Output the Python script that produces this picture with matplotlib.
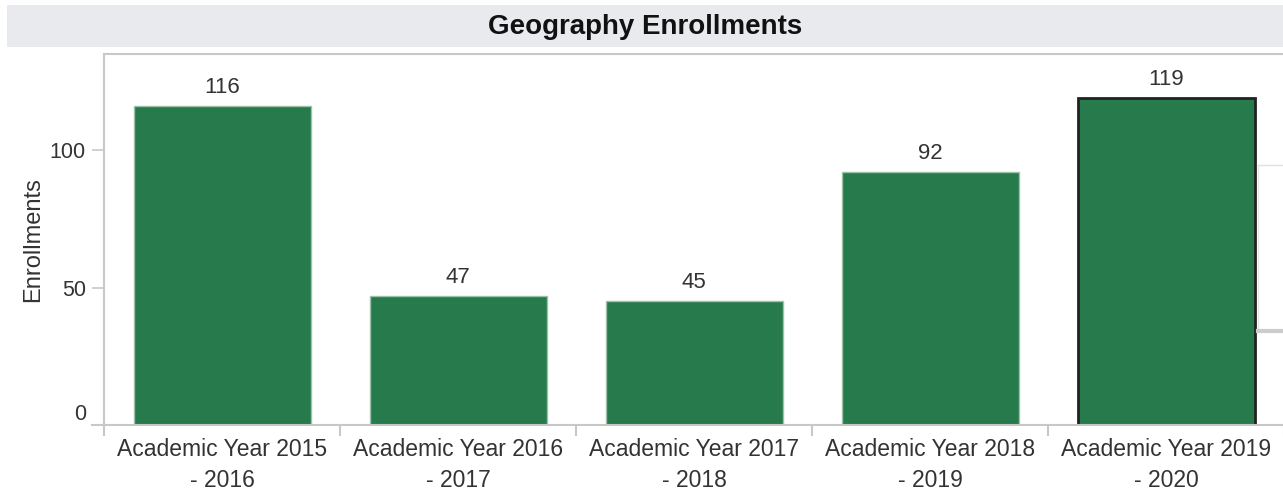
import matplotlib.pyplot as plt
import matplotlib.transforms as mtransforms
from matplotlib.lines import Line2D
from matplotlib.patches import Rectangle
import numpy as np

plt.rcParams['font.family'] = ['Liberation Sans', 'DejaVu Sans']

# Data
years = ["Academic Year 2015\n- 2016", "Academic Year 2016\n- 2017",
         "Academic Year 2017\n- 2018", "Academic Year 2018\n- 2019",
         "Academic Year 2019\n- 2020"]
enrollments = [116, 47, 45, 92, 119]
yticks = [0, 50, 100]

bar_color = '#277a4c'
grey = '#c8c8c8'
text_color = '#333333'

fig = plt.figure(figsize=(12.83, 4.93), dpi=100)
W, H = 1283, 493
ax = fig.add_axes([104 / W, 1 - 425 / H, 1180 / W, (425 - 54) / H])

x = np.arange(len(years))
edgecolors = ['#9cc3a8'] * (len(years) - 1) + ['#222222']
linewidths = [1] * (len(years) - 1) + [2]
bars = ax.bar(x, enrollments, 0.75, color=bar_color,
              edgecolor=edgecolors, linewidth=linewidths, zorder=2)

# value labels on top of bars
for b, v in zip(bars, enrollments):
    ax.annotate(f'{v}', xy=(b.get_x() + b.get_width() / 2, v),
                xytext=(0, 6), textcoords='offset points',
                ha='center', va='bottom', fontsize=16, color=text_color)

ax.set_xlim(-0.5, len(years) - 0.5)
ax.set_ylim(0, 135)

# spines
ax.spines['right'].set_visible(False)
for s in ['left', 'bottom', 'top']:
    ax.spines[s].set_color(grey)
    ax.spines[s].set_linewidth(1.5)

# extend the baseline to the left like the reference
trans = mtransforms.blended_transform_factory(ax.transAxes, ax.transData)
ax.add_line(Line2D([-12 / 1180, 0], [0, 0], transform=trans,
                   color=grey, lw=1.5, clip_on=False))

# y axis
ax.set_yticks(yticks)
ax.tick_params(axis='y', length=9, width=1.2, color=grey, pad=4,
               labelsize=15.5, labelcolor=text_color)
ylabels = ax.get_yticklabels()
ylabels[0].set_va('bottom')
ax.set_ylabel('Enrollments', fontsize=17, color=text_color, labelpad=4)

# x axis
ax.set_xticks(x)
ax.set_xticklabels(years, linespacing=1.45)
ax.set_xticks(np.arange(len(years) + 1) - 0.5, minor=True)
ax.tick_params(axis='x', which='major', length=0, pad=9.5,
               labelsize=16.5, labelcolor=text_color)
ax.tick_params(axis='x', which='minor', length=8, width=1.5, color=grey)

# title bar
fig.add_artist(Rectangle((7 / W, 1 - 47 / H), (W - 7) / W, 42 / H,
                         transform=fig.transFigure, facecolor='#e9eaee',
                         edgecolor='none'))
fig.text((7 + W) / 2 / W, 1 - 27 / H, 'Geography Enrollments',
         ha='center', va='center', fontsize=20, fontweight='bold',
         color='#111111')

# partially hidden box at the right edge
fig.add_artist(Line2D([1258 / W, 1], [1 - 165 / H, 1 - 165 / H],
                      transform=fig.transFigure, color='#e0e0e0', lw=1))
fig.add_artist(Line2D([1258 / W, 1258 / W], [1 - 165 / H, 1 - 331 / H],
                      transform=fig.transFigure, color='#e6e6e6', lw=1))
fig.add_artist(Line2D([1258 / W, 1], [1 - 331 / H, 1 - 331 / H],
                      transform=fig.transFigure, color='#cccccc', lw=3))

fig.savefig('out.png', dpi=100)
